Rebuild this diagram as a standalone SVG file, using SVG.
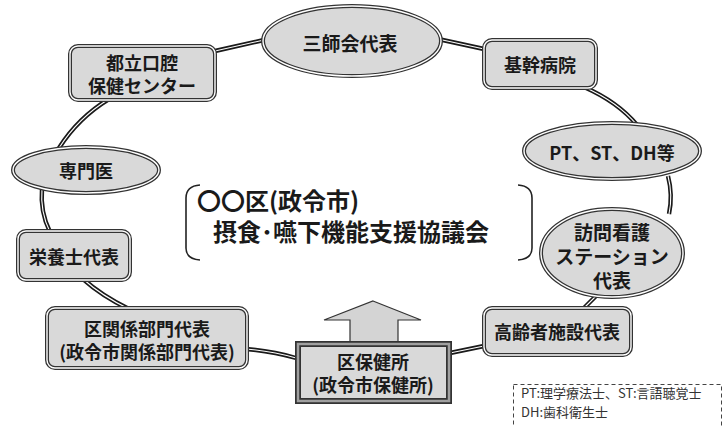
<svg xmlns="http://www.w3.org/2000/svg" width="728" height="427" viewBox="0 0 728 427">
<style>
.shape{fill:#d9d9d9;stroke:#333;stroke-width:4}
.inner{fill:none;stroke:#fff;stroke-width:1.4}
.ln{fill:none;stroke:#1a1a1a;stroke-width:4.4;stroke-linecap:butt}
.lnw{fill:none;stroke:#fff;stroke-width:1.1}
.t{font-family:"Noto Sans CJK JP","Liberation Sans",sans-serif;font-weight:bold;font-size:18px;fill:#1a1a1a;text-anchor:middle;dominant-baseline:central}
.ct{font-family:"Noto Sans CJK JP","Liberation Sans",sans-serif;font-weight:bold;font-size:24px;fill:#1a1a1a}
.lg{font-family:"Noto Sans CJK JP","Liberation Sans",sans-serif;font-size:12.5px;fill:#333}
.br{fill:none;stroke:#222;stroke-width:1.6}
</style>
<rect width="728" height="427" fill="#fff"/>
<g id="connectors">
<path class="ln" d="M215,51 L264,40"/><path class="lnw" d="M215,51 L264,40"/>
<path class="ln" d="M438,39 L484,49"/><path class="lnw" d="M438,39 L484,49"/>
<path class="ln" d="M584,87 Q618,102 637,125"/><path class="lnw" d="M584,87 Q618,102 637,125"/>
<path class="ln" d="M668,176 Q673,195 669,214"/><path class="lnw" d="M668,176 Q673,195 669,214"/>
<path class="ln" d="M598,294 L583,309"/><path class="lnw" d="M598,294 L583,309"/>
<path class="ln" d="M484,346 L450,353"/><path class="lnw" d="M484,346 L450,353"/>
<path class="ln" d="M296,358 Q272,351 246,349"/><path class="lnw" d="M296,358 Q272,351 246,349"/>
<path class="ln" d="M129,309 Q102,296 83,279"/><path class="lnw" d="M129,309 Q102,296 83,279"/>
<path class="ln" d="M50,232 Q40,212 42,188"/><path class="lnw" d="M50,232 Q40,212 42,188"/>
<path class="ln" d="M59,148 Q78,118 109,99"/><path class="lnw" d="M59,148 Q78,118 109,99"/>
</g>
<g id="node-sanshikai">
<ellipse class="shape" cx="352" cy="41" rx="89" ry="35"/><ellipse class="inner" cx="352" cy="41" rx="89" ry="35"/>
<text class="t" x="350" y="42" style="font-size:19px">三師会代表</text>
</g>
<g id="node-toritsu">
<rect class="shape" x="70" y="46" width="145" height="54" rx="8"/><rect class="inner" x="70" y="46" width="145" height="54" rx="8"/>
<text class="t" x="142" y="62">都立口腔</text>
<text class="t" x="142" y="85">保健センター</text>
</g>
<g id="node-kikan">
<rect class="shape" x="484" y="40" width="112" height="48" rx="8"/><rect class="inner" x="484" y="40" width="112" height="48" rx="8"/>
<text class="t" x="540" y="64">基幹病院</text>
</g>
<g id="node-senmon">
<ellipse class="shape" cx="86" cy="170" rx="73" ry="23"/><ellipse class="inner" cx="86" cy="170" rx="73" ry="23"/>
<text class="t" x="86" y="170">専門医</text>
</g>
<g id="node-pt">
<ellipse class="shape" cx="612" cy="151" rx="88" ry="28"/><ellipse class="inner" cx="612" cy="151" rx="88" ry="28"/>
<text class="t" x="612" y="152">PT、ST、DH等</text>
</g>
<g id="node-houmon">
<ellipse class="shape" cx="612" cy="253" rx="71" ry="44"/><ellipse class="inner" cx="612" cy="253" rx="71" ry="44"/>
<text class="t" x="612" y="231" style="font-size:19px">訪問看護</text>
<text class="t" x="612" y="255" style="font-size:19px">ステーション</text>
<text class="t" x="612" y="279" style="font-size:19px">代表</text>
</g>
<g id="node-eiyoushi">
<rect class="shape" x="18" y="231" width="112" height="49" rx="8"/><rect class="inner" x="18" y="231" width="112" height="49" rx="8"/>
<text class="t" x="74" y="256">栄養士代表</text>
</g>
<g id="node-kukankei">
<rect class="shape" x="47" y="308" width="200" height="60" rx="8"/><rect class="inner" x="47" y="308" width="200" height="60" rx="8"/>
<text class="t" x="147" y="328">区関係部門代表</text>
<text class="t" x="147" y="351">(政令市関係部門代表)</text>
</g>
<g id="node-koureisha">
<rect class="shape" x="484" y="308" width="147" height="47" rx="8"/><rect class="inner" x="484" y="308" width="147" height="47" rx="8"/>
<text class="t" x="557" y="331">高齢者施設代表</text>
</g>
<g id="node-arrow">
<path d="M373,301 L421,320 L398,320 L398,343 L350,343 L350,320 L324,320 Z" fill="#d4d4d4" stroke="#333" stroke-width="1.2"/>
</g>
<g id="node-hokenjo">
<rect x="298" y="344" width="151" height="57" fill="#d9d9d9" stroke="#333" stroke-width="6"/>
<rect x="298" y="344" width="151" height="57" fill="none" stroke="#a0a0a0" stroke-width="2.5"/>
<text class="t" x="373" y="361">区保健所</text>
<text class="t" x="373" y="384">(政令市保健所)</text>
</g>
<g id="node-center">
<path class="br" d="M200,185 Q186,186 186,198 L186,248 Q186,259 200,260"/>
<path class="br" d="M518,185 Q532,186 532,198 L532,248 Q532,259 518,260"/>
<text class="ct" x="197" y="210">〇〇区(政令市)</text>
<text class="ct" x="213" y="241">摂食･嚥下機能支援協議会</text>
</g>
<g id="legend">
<rect x="513.5" y="384.5" width="208" height="50" fill="#fff" stroke="#444" stroke-width="1" stroke-dasharray="4,3"/>
<text class="lg" x="521" y="398" style="font-size:13px">PT:理学療法士、ST:言語聴覚士</text>
<text class="lg" x="521" y="417" style="font-size:13px">DH:歯科衛生士</text>
</g>
</svg>
